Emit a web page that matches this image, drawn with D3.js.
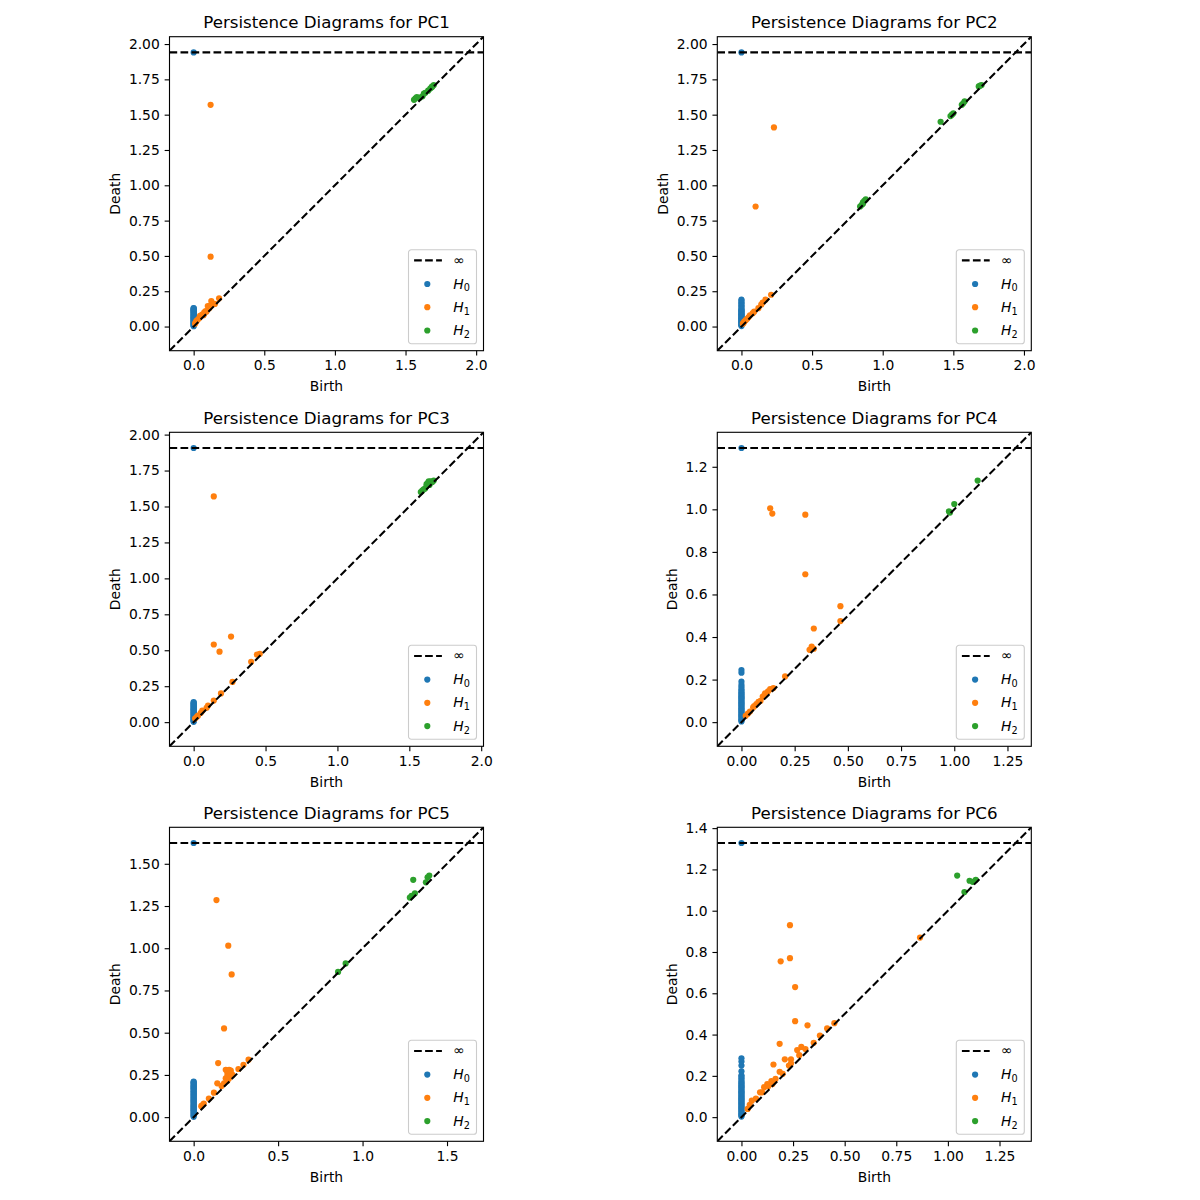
<!DOCTYPE html>
<html><head><meta charset="utf-8">
<script src="https://cdn.jsdelivr.net/npm/d3@7"></script>
<style>body{margin:0;background:#fff} svg{display:block} text{font-family:"DejaVu Sans",sans-serif}</style>
</head><body><svg id="chart" width="1200" height="1200"></svg>
<script>
const INF = Infinity;
const panelNames = ["PC1","PC2","PC3","PC4","PC5","PC6"];
const seriesLabels = ["H0","H1","H2"];
const seriesColors = ["#1f77b4","#ff7f0e","#2ca02c"];
const xTickSteps = [0.5,0.5,0.5,0.25,0.5,0.25];
const yTickSteps = [0.25,0.25,0.25,0.2,0.25,0.2];

// [birth, death]
const h0PC1 = [[0,INF],[0,0.002],[0,0.008],[0,0.012],[0,0.018],[0,0.021],[0,0.027],[0,0.033],[0,0.036],[0,0.041],[0,0.047],[0,0.052],[0,0.058],[0,0.061],[0,0.066],[0,0.071],[0,0.077],[0,0.082],[0,0.086],[0,0.091],[0,0.097],[0,0.102],[0,0.106],[0,0.111],[0,0.115],[0,0.119],[0,0.124],[0,0.128],[0,0.131]];
const h1PC1 = [[0.12,1.57],[0.12,0.495],[0.125,0.18],[0.18,0.20],[0.15,0.16],[0.12,0.15],[0.10,0.145],[0.11,0.13],[0.085,0.11],[0.075,0.10],[0.06,0.085],[0.045,0.075],[0.04,0.06],[0.03,0.05],[0.02,0.04],[0.015,0.03],[0.01,0.02],[0.07,0.08],[0.09,0.105]];
const h2PC1 = [[1.56,1.605],[1.57,1.615],[1.58,1.625],[1.60,1.62],[1.62,1.63],[1.63,1.65],[1.64,1.655],[1.66,1.67],[1.675,1.685],[1.69,1.70],[1.70,1.71],[1.685,1.695]];

const h0PC2 = [[0,INF],[0,0.003],[0,0.009],[0,0.014],[0,0.02],[0,0.026],[0,0.031],[0,0.037],[0,0.042],[0,0.048],[0,0.053],[0,0.059],[0,0.064],[0,0.07],[0,0.076],[0,0.081],[0,0.087],[0,0.093],[0,0.098],[0,0.104],[0,0.11],[0,0.116],[0,0.122],[0,0.131],[0,0.142],[0,0.151],[0,0.162],[0,0.171],[0,0.182],[0,0.191]];
const h1PC2 = [[0.23,1.41],[0.10,0.85],[0.21,0.225],[0.17,0.19],[0.15,0.17],[0.14,0.155],[0.12,0.13],[0.09,0.105],[0.08,0.095],[0.06,0.08],[0.05,0.065],[0.04,0.055],[0.03,0.045],[0.02,0.035],[0.015,0.025],[0.01,0.02]];
const h2PC2 = [[0.84,0.85],[0.85,0.86],[0.86,0.88],[0.87,0.89],[0.88,0.90],[0.86,0.87],[1.41,1.45],[1.48,1.49],[1.50,1.51],[1.49,1.50],[1.56,1.57],[1.58,1.595],[1.57,1.58],[1.68,1.70],[1.69,1.705],[1.70,1.71]];

const h0PC3 = [[0,INF],[0,0.002],[0,0.007],[0,0.013],[0,0.018],[0,0.024],[0,0.029],[0,0.034],[0,0.04],[0,0.045],[0,0.051],[0,0.056],[0,0.061],[0,0.067],[0,0.072],[0,0.078],[0,0.083],[0,0.089],[0,0.094],[0,0.1],[0,0.105],[0,0.111],[0,0.117],[0,0.123],[0,0.129],[0,0.134],[0,0.14]];
const h1PC3 = [[0.14,1.57],[0.26,0.595],[0.14,0.54],[0.18,0.49],[0.46,0.475],[0.44,0.47],[0.40,0.42],[0.27,0.28],[0.19,0.20],[0.14,0.15],[0.10,0.115],[0.09,0.10],[0.06,0.08],[0.05,0.065],[0.03,0.045],[0.02,0.035],[0.01,0.025]];
const h2PC3 = [[1.58,1.60],[1.59,1.61],[1.60,1.62],[1.61,1.625],[1.62,1.64],[1.62,1.655],[1.63,1.665],[1.635,1.675],[1.65,1.675],[1.66,1.67],[1.67,1.68],[1.64,1.65]];

const h0PC4 = [[0,INF],[0,0.003],[0,0.009],[0,0.014],[0,0.02],[0,0.026],[0,0.031],[0,0.037],[0,0.043],[0,0.048],[0,0.054],[0,0.06],[0,0.065],[0,0.071],[0,0.077],[0,0.082],[0,0.088],[0,0.094],[0,0.099],[0,0.105],[0,0.111],[0,0.116],[0,0.122],[0,0.128],[0,0.134],[0,0.14],[0,0.147],[0,0.155],[0,0.165],[0,0.175],[0,0.19],[0,0.232],[0,0.245]];
const h1PC4 = [[0.135,1.005],[0.145,0.98],[0.30,0.975],[0.30,0.695],[0.465,0.545],[0.465,0.475],[0.34,0.44],[0.33,0.355],[0.34,0.345],[0.32,0.34],[0.205,0.215],[0.15,0.16],[0.135,0.155],[0.125,0.145],[0.11,0.135],[0.09,0.10],[0.07,0.085],[0.06,0.075],[0.055,0.07],[0.04,0.05],[0.03,0.04],[0.02,0.03],[0.10,0.12],[0.08,0.095]];
const h2PC4 = [[1.11,1.135],[1.00,1.025],[0.975,0.99],[0.98,0.985]];

const h0PC5 = [[0,INF],[0,0.002],[0,0.008],[0,0.013],[0,0.019],[0,0.024],[0,0.03],[0,0.036],[0,0.041],[0,0.047],[0,0.052],[0,0.058],[0,0.064],[0,0.069],[0,0.075],[0,0.081],[0,0.086],[0,0.092],[0,0.098],[0,0.103],[0,0.109],[0,0.115],[0,0.12],[0,0.126],[0,0.132],[0,0.137],[0,0.143],[0,0.149],[0,0.154],[0,0.16],[0,0.166],[0,0.171],[0,0.177],[0,0.183],[0,0.188],[0,0.194],[0,0.2],[0,0.206],[0,0.211]];
const h1PC5 = [[0.135,1.285],[0.205,1.015],[0.225,0.845],[0.18,0.525],[0.145,0.32],[0.325,0.34],[0.295,0.31],[0.265,0.285],[0.19,0.28],[0.20,0.27],[0.21,0.28],[0.22,0.275],[0.20,0.255],[0.21,0.245],[0.22,0.26],[0.19,0.23],[0.20,0.215],[0.23,0.25],[0.18,0.20],[0.14,0.20],[0.165,0.185],[0.12,0.145],[0.09,0.11],[0.06,0.08],[0.05,0.07],[0.045,0.065],[0.21,0.23],[0.20,0.24]];
const h2PC5 = [[1.30,1.405],[1.395,1.43],[1.385,1.42],[1.375,1.39],[1.31,1.325],[1.28,1.30],[1.29,1.31],[0.855,0.86],[0.90,0.91]];

const h0PC6 = [[0,INF],[0,0.003],[0,0.008],[0,0.014],[0,0.019],[0,0.025],[0,0.031],[0,0.036],[0,0.042],[0,0.047],[0,0.053],[0,0.059],[0,0.064],[0,0.07],[0,0.075],[0,0.081],[0,0.087],[0,0.092],[0,0.098],[0,0.103],[0,0.109],[0,0.115],[0,0.12],[0,0.126],[0,0.131],[0,0.137],[0,0.143],[0,0.148],[0,0.154],[0,0.16],[0,0.166],[0,0.172],[0,0.18],[0,0.188],[0,0.196],[0,0.203],[0,0.222],[0,0.25],[0,0.269],[0,0.285]];
const h1PC6 = [[0.235,0.93],[0.19,0.755],[0.235,0.77],[0.26,0.63],[0.865,0.87],[0.26,0.465],[0.32,0.445],[0.45,0.455],[0.415,0.43],[0.38,0.395],[0.35,0.36],[0.185,0.355],[0.29,0.34],[0.27,0.325],[0.31,0.33],[0.21,0.28],[0.155,0.255],[0.24,0.28],[0.28,0.30],[0.23,0.25],[0.24,0.26],[0.185,0.22],[0.20,0.21],[0.165,0.185],[0.145,0.175],[0.125,0.16],[0.11,0.145],[0.09,0.12],[0.07,0.09],[0.05,0.08],[0.04,0.06],[0.03,0.04],[0.10,0.12],[0.13,0.15],[0.15,0.16]];
const h2PC6 = [[1.045,1.17],[1.105,1.145],[1.135,1.15],[1.08,1.09],[1.12,1.14]];

const diagrams = [
  [h0PC1,h1PC1,h2PC1],[h0PC2,h1PC2,h2PC2],[h0PC3,h1PC3,h2PC3],
  [h0PC4,h1PC4,h2PC4],[h0PC5,h1PC5,h2PC5],[h0PC6,h1PC6,h2PC6]
];

// layout
const colX = [169.5, 717.3];
const rowY = [36.7, 432.3, 827.3];
const size = 314;
const FS = 13.89;
const LW = 2.08, DASH = "7.7,3.3";

const svg = d3.select("#chart");
svg.append("rect").attr("width",1200).attr("height",1200).attr("fill","#fff");

function decimals(step){ const s = String(step); return s.includes(".") ? s.split(".")[1].length : 0; }

diagrams.forEach((dgms, i) => {
  const ox = colX[i % 2], oy = rowY[Math.floor(i / 2)];
  const g = svg.append("g").attr("transform", `translate(${ox},${oy})`);
  const finite = dgms.flat().flat().filter(v => isFinite(v));
  const mn = d3.min(finite), mx = d3.max(finite);
  const buffer = (mx - mn) / 5;
  const lo = mn - buffer / 2, hi = mx + buffer;
  const bInf = lo + (hi - lo) * 0.95;
  const x = d3.scaleLinear().domain([lo, hi]).range([0, size]);
  const y = d3.scaleLinear().domain([lo, hi]).range([size, 0]);

  const clipId = "clip" + i;
  g.append("clipPath").attr("id", clipId).append("rect").attr("width", size).attr("height", size);
  const plot = g.append("g").attr("clip-path", `url(#${clipId})`);

  // scatter (zorder below lines)
  dgms.forEach((dgm, k) => {
    plot.append("g").selectAll("circle").data(dgm).join("circle")
      .attr("cx", d => x(d[0]))
      .attr("cy", d => y(isFinite(d[1]) ? d[1] : bInf))
      .attr("r", 3.1)
      .attr("fill", seriesColors[k]);
  });
  // diagonal
  plot.append("line").attr("x1", x(lo)).attr("y1", y(lo)).attr("x2", x(hi)).attr("y2", y(hi))
    .attr("stroke", "#000").attr("stroke-width", LW).attr("stroke-dasharray", DASH);
  // infinity line
  plot.append("line").attr("x1", x(lo)).attr("y1", y(bInf)).attr("x2", x(hi)).attr("y2", y(bInf))
    .attr("stroke", "#000").attr("stroke-width", LW).attr("stroke-dasharray", DASH);

  // axes
  const xs = xTickSteps[i], ys = yTickSteps[i];
  const xt = d3.range(0, hi + 1e-9, xs).filter(v => v >= lo);
  const yt = d3.range(0, hi + 1e-9, ys).filter(v => v >= lo);
  const xAxis = d3.axisBottom(x).tickValues(xt).tickFormat(d3.format(`.${decimals(xs)}f`))
    .tickSize(4.86).tickPadding(4.86).tickSizeOuter(0);
  const yAxis = d3.axisLeft(y).tickValues(yt).tickFormat(d3.format(`.${decimals(ys)}f`))
    .tickSize(4.86).tickPadding(4.86).tickSizeOuter(0);
  const xg = g.append("g").attr("transform", `translate(0,${size})`).call(xAxis);
  const yg = g.append("g").call(yAxis);
  [xg, yg].forEach(a => {
    a.attr("font-family", null).attr("font-size", null);
    a.select(".domain").remove();
    a.selectAll(".tick line").attr("stroke", "#000").attr("stroke-width", 1.11);
    a.selectAll(".tick text").attr("fill", "#000").style("font-size", FS + "px");
  });

  // spines
  g.append("rect").attr("width", size).attr("height", size).attr("fill", "none")
    .attr("stroke", "#000").attr("stroke-width", 1.11);

  // labels
  g.append("text").attr("x", size / 2).attr("y", size + 40.3).attr("text-anchor", "middle")
    .style("font-size", FS + "px").text("Birth");
  const bb = yg.node().getBBox();
  const lx = bb.x - 5.6 - 3.3;
  g.append("text").attr("transform", `translate(${lx},${size / 2}) rotate(-90)`)
    .attr("text-anchor", "middle").style("font-size", FS + "px").text("Death");
  g.append("text").attr("x", size / 2).attr("y", -8.3).attr("text-anchor", "middle")
    .style("font-size", "16.67px").text("Persistence Diagrams for " + panelNames[i]);

  // legend
  const lw = 68, lh = 94;
  const lg = g.append("g").attr("transform", `translate(${size - 7 - lw},${size - 7 - lh})`);
  lg.append("rect").attr("width", lw).attr("height", lh).attr("rx", 2.8)
    .attr("fill", "#fff").attr("fill-opacity", 0.8).attr("stroke", "#cccccc").attr("stroke-width", 1.1);
  lg.append("line").attr("x1", 5.6).attr("x2", 33.4).attr("y1", 10.7).attr("y2", 10.7)
    .attr("stroke", "#000").attr("stroke-width", LW).attr("stroke-dasharray", DASH);
  lg.append("text").attr("x", 44.7).attr("y", 15.2).style("font-size", FS + "px").text("∞");
  const rowsY = [34.3, 57.5, 80.8];
  seriesLabels.forEach((lab, k) => {
    lg.append("circle").attr("cx", 18.8).attr("cy", rowsY[k]).attr("r", 3.1).attr("fill", seriesColors[k]);
    const t = lg.append("text").attr("x", 44.7).attr("y", rowsY[k] + 4.6).style("font-size", FS + "px");
    t.append("tspan").attr("font-style", "italic").text(lab[0]);
    t.append("tspan").attr("dy", 2.9).style("font-size", (FS * 0.7) + "px").text(lab.slice(1));
  });
});
</script></body></html>
